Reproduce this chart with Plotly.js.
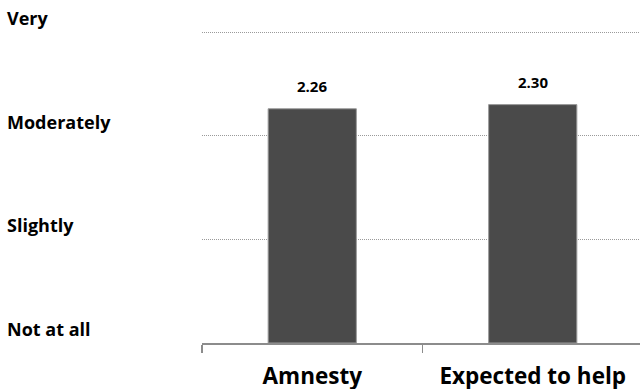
<!DOCTYPE html>
<html>
<head>
<meta charset="utf-8">
<script src="https://cdn.plot.ly/plotly-3.0.1.min.js"></script>
<style>html,body{margin:0;padding:0;overflow:hidden;background:#fff;}</style>
</head>
<body>
<div id="chart"></div>
<script>
const categories = ["Amnesty", "Expected to help"];
const values = [2.26, 2.30];
const valueLabels = ["2.26", "2.30"];
const scaleValues = [0, 1, 2, 3];
const scaleLabels = ["Not at all", "Slightly", "Moderately", "Very"];

const FONT = "'Open Sans', Lato, sans-serif";

const trace = {
  type: "bar",
  x: categories,
  y: values,
  marker: {color: "#4a4a4a", line: {color: "#9a9a9a", width: 1}},
  hoverinfo: "none"
};

const annotations = [];
values.forEach((v, i) => {
  annotations.push({
    x: categories[i], y: v, xref: "x", yref: "y",
    text: "<b>" + valueLabels[i] + "</b>", showarrow: false,
    yanchor: "bottom", yshift: 11,
    font: {family: FONT, size: 15, color: "#000"}
  });
});
scaleValues.forEach((v, i) => {
  annotations.push({
    x: -0.447, y: v, xref: "paper", yref: "y",
    text: "<b>" + scaleLabels[i] + "</b>", showarrow: false,
    xanchor: "left", yanchor: "middle", yshift: 14,
    font: {family: FONT, size: 18, color: "#000"}
  });
});

const layout = {
  width: 643, height: 389,
  margin: {l: 202, r: 0, t: 30, b: 46, pad: 0},
  paper_bgcolor: "#fff", plot_bgcolor: "#fff",
  showlegend: false,
  bargap: 0.6,
  xaxis: {
    type: "category",
    showline: true, linecolor: "#8c8c8c", linewidth: 1.5,
    ticks: "outside", tickson: "boundaries", ticklen: 8, tickcolor: "#8c8c8c", tickwidth: 1.5,
    showgrid: false, zeroline: false, ticklabelstandoff: 12,
    tickfont: {family: FONT, size: 22.5, color: "#000", weight: "bold"}
  },
  yaxis: {
    range: [0, 3.02], tickvals: scaleValues, showticklabels: false,
    showgrid: true, gridcolor: "#9a9a9a", gridwidth: 1, griddash: "1px,1px",
    zeroline: false, showline: false, ticks: ""
  },
  annotations: annotations
};

Plotly.newPlot("chart", [trace], layout, {staticPlot: true, displayModeBar: false});
</script>
</body>
</html>
